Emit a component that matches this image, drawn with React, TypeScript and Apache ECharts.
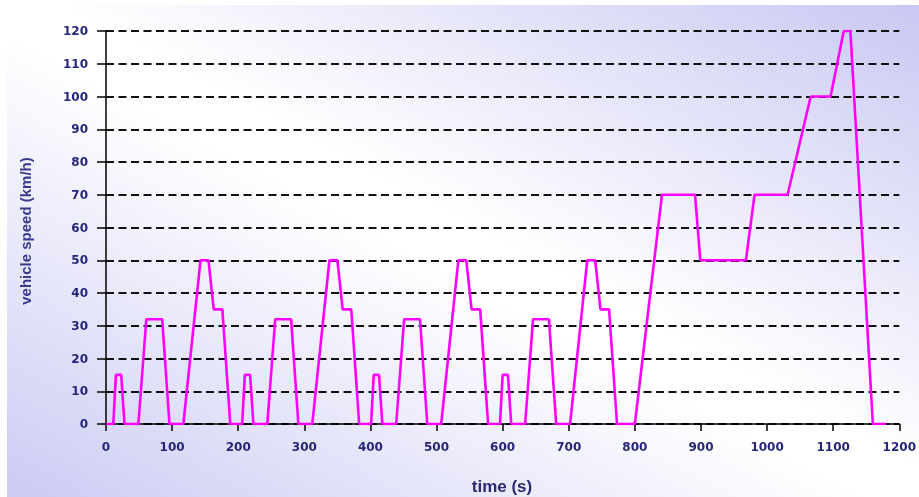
import { useEffect, useRef } from "react";
import * as echarts from "echarts";

// NEDC driving cycle: time (s) and vehicle speed (km/h)
const timeSeconds = [
  0, 11, 15, 23, 28, 49, 61, 85, 96, 117, 143, 155, 163, 176, 188,
  206, 210, 218, 223, 244, 256, 280, 291, 312, 338, 350, 358, 371, 383,
  401, 405, 413, 418, 439, 451, 475, 486, 507, 533, 545, 553, 566, 578,
  596, 600, 608, 613, 634, 646, 670, 681, 702, 728, 740, 748, 761, 773,
  800, 841, 891, 899, 968, 981, 1031, 1066, 1096, 1116, 1126, 1160, 1180,
];
const speedKmh = [
  0, 0, 15, 15, 0, 0, 32, 32, 0, 0, 50, 50, 35, 35, 0,
  0, 15, 15, 0, 0, 32, 32, 0, 0, 50, 50, 35, 35, 0,
  0, 15, 15, 0, 0, 32, 32, 0, 0, 50, 50, 35, 35, 0,
  0, 15, 15, 0, 0, 32, 32, 0, 0, 50, 50, 35, 35, 0,
  0, 70, 70, 50, 50, 70, 70, 100, 100, 120, 120, 0, 0,
];
const xAxisRange = [0, 1200];
const xAxisStep = 100;
const yAxisRange = [0, 120];
const yAxisStep = 10;
const xTitle = "time (s)";
const yTitle = "vehicle speed (km/h)";

export default function App() {
  const ref = useRef<HTMLDivElement>(null);
  useEffect(() => {
    if (!ref.current) return;
    const chart = echarts.init(ref.current, null, { renderer: "svg" });
    const data = timeSeconds.map((t, i) => [t, speedKmh[i]]);
    const labelStyle = {
      color: "#25257a",
      fontFamily: "'DejaVu Sans', Arial, sans-serif",
      fontWeight: "bold" as const,
      fontSize: 12,
      formatter: (v: number) => String(v),
    };
    chart.setOption({
      animation: false,
      graphic: {
        elements: [
          {
            type: "rect",
            z: -100,
            silent: true,
            shape: { x: 7, y: 5, width: 912, height: 492 },
            style: {
              fill: new echarts.graphic.LinearGradient(0, 1, 1, 0, [
                { offset: 0, color: "#cbcbf4" },
                { offset: 0.47, color: "#ffffff" },
                { offset: 0.53, color: "#ffffff" },
                { offset: 1, color: "#c8c8f3" },
              ]),
            },
          },
          {
            type: "text",
            x: 25,
            y: 231,
            rotation: Math.PI / 2,
            style: {
              text: yTitle,
              fill: "#3a3a8e",
              font: "bold 15px Arial, 'Liberation Sans', sans-serif",
              align: "center",
              verticalAlign: "middle",
            },
          },
          {
            type: "text",
            x: 502,
            y: 486,
            style: {
              text: xTitle,
              fill: "#2a2a70",
              font: "bold 17px Arial, 'Liberation Sans', sans-serif",
              align: "center",
              verticalAlign: "middle",
            },
          },
        ],
      },
      grid: { left: 106, right: 18, top: 31, bottom: 73 },
      xAxis: {
        type: "value",
        min: xAxisRange[0],
        max: xAxisRange[1],
        interval: xAxisStep,
        axisLine: { show: true, lineStyle: { color: "#000", width: 1.5 } },
        axisTick: { show: true, length: 7, lineStyle: { color: "#000", width: 1.5 } },
        axisLabel: { ...labelStyle, margin: 17 },
        splitLine: { show: false },
      },
      yAxis: {
        type: "value",
        min: yAxisRange[0],
        max: yAxisRange[1],
        interval: yAxisStep,
        axisLine: { show: true, lineStyle: { color: "#000", width: 1.5 } },
        axisTick: { show: true, length: 9, lineStyle: { color: "#000", width: 1.5 } },
        axisLabel: { ...labelStyle, margin: 18 },
        splitLine: {
          show: true,
          lineStyle: { color: "#111", width: 2, type: [8, 4.5] },
        },
      },
      series: [
        {
          type: "line",
          data,
          symbol: "none",
          lineStyle: { color: "#ff00ff", width: 2.6 },
          z: 3,
        },
      ],
    });
    return () => chart.dispose();
  }, []);
  return (
    <div
      ref={ref}
      style={{ position: "fixed", left: 0, top: 0, width: 919, height: 497 }}
    />
  );
}
